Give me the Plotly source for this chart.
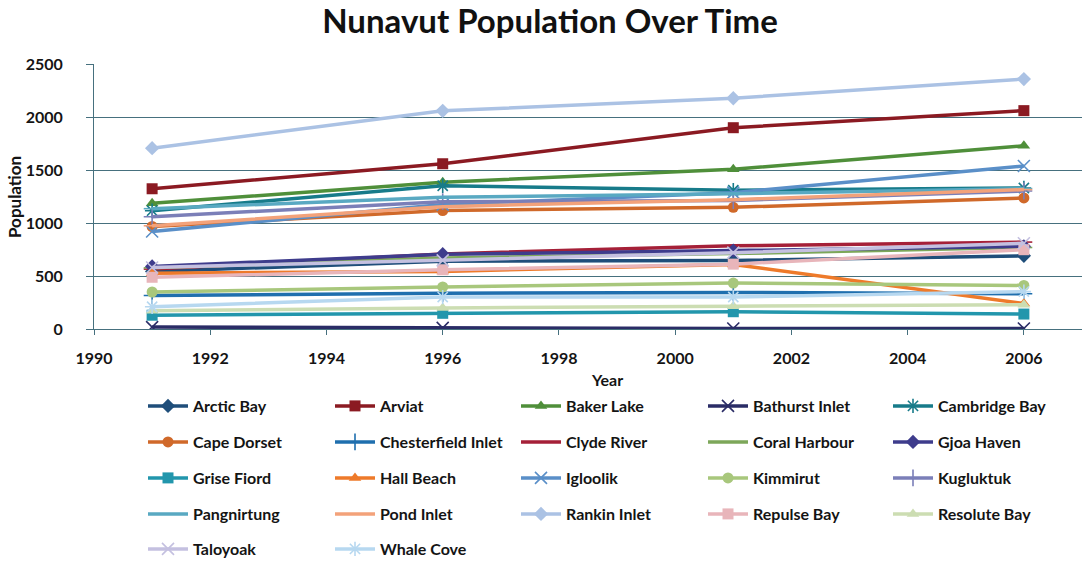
import plotly.graph_objects as go

# Census years
years = [1991, 1996, 2001, 2006]

# Community names, in legend order
communities = [
    "Arctic Bay", "Arviat", "Baker Lake", "Bathurst Inlet", "Cambridge Bay",
    "Cape Dorset", "Chesterfield Inlet", "Clyde River", "Coral Harbour", "Gjoa Haven",
    "Grise Fiord", "Hall Beach", "Igloolik", "Kimmirut", "Kugluktuk",
    "Pangnirtung", "Pond Inlet", "Rankin Inlet", "Repulse Bay", "Resolute Bay",
    "Taloyoak", "Whale Cove",
]

# Population per community for each census year
arctic_bay = [543, 639, 646, 690]
arviat = [1323, 1559, 1899, 2060]
baker_lake = [1186, 1385, 1507, 1728]
bathurst_inlet = [18, 10, 5, 5]
cambridge_bay = [1116, 1351, 1309, 1330]
cape_dorset = [967, 1118, 1148, 1236]
chesterfield_inlet = [316, 337, 345, 332]
clyde_river = [565, 708, 785, 820]
coral_harbour = [577, 669, 712, 769]
gjoa_haven = [590, 705, 740, 780]
grise_fiord = [130, 148, 163, 141]
hall_beach = [526, 543, 609, 240]
igloolik = [920, 1174, 1286, 1538]
kimmirut = [349, 397, 433, 411]
kugluktuk = [1059, 1201, 1212, 1302]
pangnirtung = [1135, 1243, 1276, 1325]
pond_inlet = [974, 1154, 1220, 1315]
rankin_inlet = [1706, 2058, 2177, 2358]
repulse_bay = [488, 559, 612, 748]
resolute_bay = [171, 198, 215, 229]
taloyoak = [580, 648, 720, 809]
whale_cove = [210, 301, 302, 353]

populations = [
    arctic_bay, arviat, baker_lake, bathurst_inlet, cambridge_bay,
    cape_dorset, chesterfield_inlet, clyde_river, coral_harbour, gjoa_haven,
    grise_fiord, hall_beach, igloolik, kimmirut, kugluktuk,
    pangnirtung, pond_inlet, rankin_inlet, repulse_bay, resolute_bay,
    taloyoak, whale_cove,
]

colors = [
    "#1F4E7A", "#8B1A22", "#4F8F3A", "#2A2C66", "#177B8A",
    "#D0692A", "#1F6FAE", "#A52038", "#7DA75A", "#3E3C8C",
    "#2296AC", "#EE7A2A", "#5A8FC8", "#A8C77C", "#7B7FB8",
    "#59A9C2", "#F3A27A", "#ABC2E4", "#E8B5BA", "#CCDDB2",
    "#C4C0E0", "#B7D8F0",
]

symbols = [
    "diamond", "square", "triangle-up", "x-thin-open", "asterisk-open",
    "circle", "cross-thin-open", "line-ew-open", "line-ew-open", "diamond",
    "square", "triangle-up", "x-thin-open", "circle", "cross-thin-open",
    "line-ew-open", "line-ew-open", "diamond", "square", "triangle-up",
    "x-thin-open", "asterisk-open",
]

FONT = "Lato, 'Open Sans', sans-serif"
TEXT = "#141414"
GRID = "#46707E"

W, H = 1083, 561
L, R, T, B = 94, 1, 64, 232
plot_h = H - T - B
plot_w = W - L - R


def py(pixel_y):
    """Paper y coordinate for a pixel row."""
    return (H - B - pixel_y) / plot_h


def px(pixel_x):
    """Paper x coordinate for a pixel column."""
    return (pixel_x - L) / plot_w


# Legend grid: five columns, one single-entry legend per community
legend_cols_x = [143, 330, 516, 703, 888]
legend_rows_y = [406, 442, 478, 514, 549]

fig = go.Figure()
layout_legends = {}
for i, (name, vals, col, sym) in enumerate(zip(communities, populations, colors, symbols)):
    key = "legend" if i == 0 else f"legend{i + 1}"
    thin = sym.endswith("-open")
    fig.add_trace(go.Scatter(
        x=years, y=vals, name=name, mode="lines+markers",
        line=dict(color=col, width=3.5),
        marker=dict(symbol=sym, size=12 if thin else 11, color=col,
                    line=dict(color=col, width=1.6 if thin else 0)),
        legend=key,
    ))
    r, c = divmod(i, 5)
    layout_legends[key] = dict(
        x=px(legend_cols_x[c]), xanchor="left",
        y=py(legend_rows_y[r]), yanchor="middle",
        itemwidth=40,
        font=dict(family=FONT, size=16, color=TEXT, weight="bold"),
        bgcolor="rgba(0,0,0,0)", borderwidth=0, itemclick=False,
    )

fig.update_layout(
    width=W, height=H,
    margin=dict(l=L, r=R, t=T, b=B, pad=0, autoexpand=False),
    paper_bgcolor="white", plot_bgcolor="white",
    title=dict(text="<b>Nunavut Population Over Time</b>", x=550 / W, xanchor="center",
               y=1 - 21 / H, yanchor="middle",
               font=dict(family=FONT, size=33, color="#111111")),
    showlegend=True,
    **layout_legends,
)

fig.update_xaxes(
    range=[1990, 2007], tick0=1990, dtick=2, showgrid=False,
    showline=True, linecolor=GRID, linewidth=1,
    ticks="outside", ticklen=5, tickcolor=GRID, ticklabelstandoff=10,
    tickfont=dict(family=FONT, size=16, color=TEXT, weight="bold"),
    zeroline=False,
)
fig.update_yaxes(
    range=[0, 2500], tick0=0, dtick=500, showgrid=True, gridcolor=GRID, gridwidth=1,
    showline=True, linecolor=GRID, linewidth=1,
    ticks="outside", ticklen=7, tickcolor=GRID, ticklabelstandoff=20,
    tickfont=dict(family=FONT, size=16, color=TEXT, weight="bold"),
    zeroline=False,
)

fig.add_annotation(text="<b>Year</b>", x=px(607), y=py(379), xref="paper", yref="paper",
                   xanchor="center", yanchor="middle",
                   showarrow=False, font=dict(family=FONT, size=16, color=TEXT))
fig.add_annotation(text="<b>Population</b>", x=px(14), y=py(197), xref="paper", yref="paper",
                   xanchor="center", yanchor="middle",
                   textangle=-90, showarrow=False, font=dict(family=FONT, size=17, color=TEXT))

fig.write_html("out.html")
